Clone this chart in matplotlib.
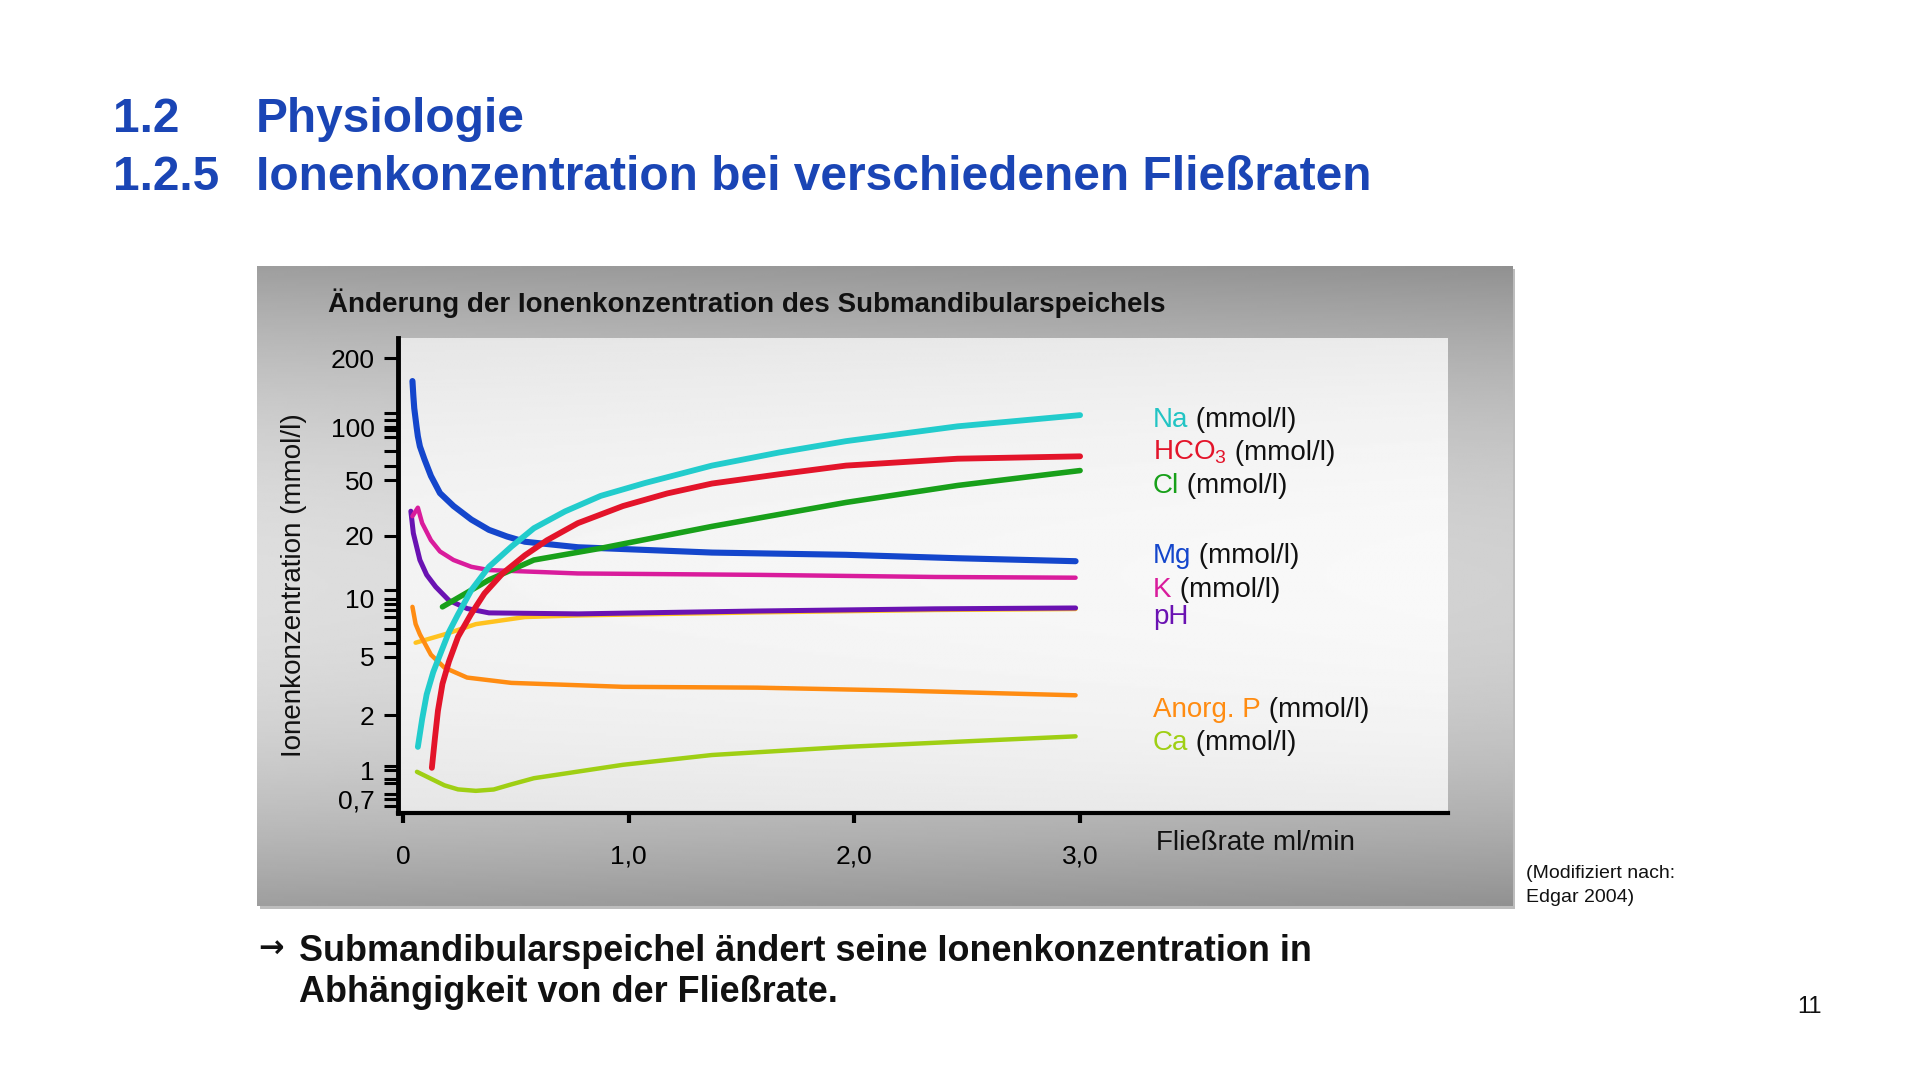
import numpy as np
import matplotlib
matplotlib.use("Agg")
import matplotlib.pyplot as plt

plt.rcParams['font.family'] = ['Liberation Sans', 'DejaVu Sans']
plt.rcParams['mathtext.fontset'] = 'custom'
plt.rcParams['mathtext.rm'] = 'Liberation Sans'
plt.rcParams['mathtext.it'] = 'Liberation Sans:italic'

# --- data (flow rate ml/min, concentration) ---
na_x = [0.066, 0.085, 0.105, 0.134, 0.164, 0.204, 0.244, 0.303, 0.381, 0.48, 0.58, 0.718, 0.876,
        1.072, 1.369, 1.666, 1.963, 2.457, 3.0]
na_y = [1.34, 1.90, 2.77, 3.93, 5.13, 6.74, 8.3, 11.0, 14.2, 17.7, 22.6, 29.9, 38.7,
        47.9, 60.7, 72.0, 83.5, 101, 113]

hco3_x = [0.128, 0.142, 0.155, 0.175, 0.204, 0.244, 0.301, 0.361, 0.441, 0.54, 0.638, 0.775, 0.975,
          1.171, 1.369, 1.666, 1.963, 2.457, 3.0]
hco3_y = [1.03, 1.51, 2.14, 3.27, 4.66, 6.35, 8.3, 10.6, 13.2, 16.1, 19.0, 24.6, 32.7,
          40.3, 47.5, 54.2, 60.7, 66.4, 68.5]

cl_x = [0.175, 0.381, 0.58, 0.876, 1.369, 1.963, 2.457, 3.0]
cl_y = [9.08, 12.3, 15.3, 17.4, 23.3, 34.7, 46.0, 56.9]

mg_x = [0.042, 0.046, 0.05, 0.06, 0.066, 0.075, 0.095, 0.124, 0.164, 0.224, 0.303, 0.381, 0.461,
        0.54, 0.775, 1.369, 1.963, 2.457, 2.98]
mg_y = [159, 137, 121, 101, 89, 78, 66, 53, 40.5, 32.7, 26.1, 22.0, 19.8,
        18.7, 17.6, 16.6, 16.2, 15.6, 15.1]

k_x = [0.042, 0.066, 0.085, 0.124, 0.164, 0.224, 0.303, 0.381, 0.775, 1.568, 2.357, 2.98]
k_y = [27.6, 31.8, 24.6, 19.0, 16.8, 15.3, 14.2, 13.7, 13.2, 13.0, 12.7, 12.6]

ph_x = [0.035, 0.046, 0.075, 0.105, 0.145, 0.204, 0.284, 0.381, 0.775, 1.568, 2.357, 2.98]
ph_y = [30.0, 20.8, 15.3, 13.0, 11.4, 9.8, 8.9, 8.45, 8.35, 8.64, 8.87, 8.96]

gold_x = [0.056, 0.184, 0.323, 0.54, 0.775, 1.568, 2.357, 2.98]
gold_y = [5.92, 6.54, 7.39, 8.04, 8.2, 8.5, 8.75, 8.85]

p_x = [0.042, 0.056, 0.075, 0.124, 0.184, 0.284, 0.48, 0.975, 1.568, 2.16, 2.98]
p_y = [9.08, 7.4, 6.54, 5.13, 4.22, 3.61, 3.32, 3.12, 3.08, 2.95, 2.73]

ca_x = [0.062, 0.184, 0.244, 0.323, 0.402, 0.48, 0.58, 0.975, 1.369, 1.963, 2.457, 2.98]
ca_y = [0.98, 0.83, 0.79, 0.776, 0.789, 0.84, 0.906, 1.07, 1.21, 1.34, 1.43, 1.53]

x_ticks = [0, 1, 2, 3]
x_ticklabels = ['0', '1,0', '2,0', '3,0']
y_ticks = [0.7, 1, 2, 5, 10, 20, 50, 100, 200]
y_ticklabels = ['0,7', '1', '2', '5', '10', '20', '50', '100', '200']
y_minor = [0.64, 0.75, 0.85, 0.9, 1.05, 5.9, 7.0, 8.0, 8.7, 9.4, 11, 60, 73, 88, 96, 108, 116]

# hand-drawn, irregular log axis: tick value -> vertical position
axis_vals = [0.5, 0.7, 1, 2, 5, 10, 20, 50, 100, 200, 300]
axis_pos = [826, 799, 770, 715, 657, 599, 536, 481, 428, 359, 318]
logs = np.log10(axis_vals)
pos = -np.array(axis_pos, dtype=float)


def fwd(v):
    v = np.clip(np.asarray(v, dtype=float), 1e-3, None)
    return np.interp(np.log10(v), logs, pos)


def inv(p):
    return 10 ** np.interp(np.asarray(p, dtype=float), pos, logs)


W, H = 1920, 1080


def fxp(px):
    return px / W


def fyp(py):
    return 1 - py / H


fig = plt.figure(figsize=(19.2, 10.8), dpi=100)
fig.patch.set_facecolor('white')

# soft shadow, then grey frame with gradient
shadow = fig.add_axes([fxp(260), fyp(909), (1512 - 257) / W, (906 - 266) / H])
shadow.set_facecolor('#bdbdbd')
shadow.set_xticks([])
shadow.set_yticks([])
for s in shadow.spines.values():
    s.set_visible(False)

box = fig.add_axes([fxp(257), fyp(906), (1512 - 257) / W, (906 - 266) / H])
v = np.linspace(0, 1, 300)[:, None]
u = np.linspace(0, 1, 400)[None, :]
shade = 0.87 - 1.0 * (v - 0.5) ** 2 - 0.05 * u
box.imshow(shade, cmap='gray', vmin=0, vmax=1, aspect='auto', interpolation='bilinear')
box.axis('off')

# light plot area
area_rect = [fxp(398), fyp(813), (1448 - 398) / W, (813 - 338) / H]
area = fig.add_axes(area_rect)
v2 = np.linspace(0, 1, 200)[:, None]
u2 = np.linspace(0, 1, 300)[None, :]
light = 0.975 - 0.22 * (v2 - 0.5) ** 2 - 0.02 * (1 - u2)
area.imshow(light, cmap='gray', vmin=0, vmax=1, aspect='auto', interpolation='bilinear')
area.axis('off')

ax = fig.add_axes(area_rect)
ax.patch.set_alpha(0)
ax.set_yscale('function', functions=(fwd, inv))
ax.set_xlim(-0.022, 4.63)
ax.set_ylim(0.59, 244)

series = [
    (gold_x, gold_y, '#ffc21f', 3.2),
    (ca_x, ca_y, '#9fcf14', 3.2),
    (p_x, p_y, '#ff8c12', 3.2),
    (ph_x, ph_y, '#6a12b2', 3.6),
    (k_x, k_y, '#d91c9c', 3.2),
    (mg_x, mg_y, '#1446cc', 4.4),
    (cl_x, cl_y, '#18a01a', 4.0),
    (hco3_x, hco3_y, '#e3142a', 4.2),
    (na_x, na_y, '#22cccc', 4.2),
]
for xs, ys, col, lw in series:
    ax.plot(xs, ys, color=col, lw=lw, solid_capstyle='round', solid_joinstyle='round')

for side in ['top', 'right']:
    ax.spines[side].set_visible(False)
ax.spines['left'].set_linewidth(3.5)
ax.spines['bottom'].set_linewidth(3.0)

ax.set_xticks(x_ticks)
ax.set_xticklabels(x_ticklabels, fontsize=19)
ax.set_yticks(y_ticks)
ax.set_yticklabels(y_ticklabels, fontsize=19)
ax.set_yticks(y_minor, minor=True)
ax.tick_params(axis='y', which='both', direction='out', length=10, width=2.2, pad=7)
ax.tick_params(axis='x', which='major', direction='out', length=7, width=3, pad=16)
ax.yaxis.set_minor_formatter(plt.NullFormatter())

# texts
blue = '#1a45b5'
fig.text(fxp(113), fyp(132), '1.2', fontsize=34.5, fontweight='bold', color=blue, va='baseline')
fig.text(fxp(256), fyp(132), 'Physiologie', fontsize=34.5, fontweight='bold', color=blue, va='baseline')
fig.text(fxp(113), fyp(190), '1.2.5', fontsize=34.5, fontweight='bold', color=blue, va='baseline')
fig.text(fxp(256), fyp(190), 'Ionenkonzentration bei verschiedenen Fließraten', fontsize=34.5,
         fontweight='bold', color=blue, va='baseline')

fig.text(fxp(328), fyp(312), 'Änderung der Ionenkonzentration des Submandibularspeichels',
         fontsize=20, fontweight='bold', color='#111111', va='baseline')
fig.text(fxp(294), fyp(585), 'Ionenkonzentration (mmol/l)', fontsize=20, rotation=90,
         ha='center', va='center', color='#111111')
fig.text(fxp(1156), fyp(850), 'Fließrate ml/min', fontsize=20, color='#111111', va='baseline')

legend = [
    ('Na', '#22c4c4', ' (mmol/l)', 427),
    ('HCO$_3$', '#e3142a', ' (mmol/l)', 460),
    ('Cl', '#18a01a', ' (mmol/l)', 493),
    ('Mg', '#1446cc', ' (mmol/l)', 563),
    ('K', '#d91c9c', ' (mmol/l)', 597),
    ('pH', '#6a12b2', '', 624),
    ('Anorg. P', '#ff8c12', ' (mmol/l)', 717),
    ('Ca', '#9fcf14', ' (mmol/l)', 750),
]
renderer = fig.canvas.get_renderer()
for name, col, rest, yb in legend:
    t = fig.text(fxp(1153), fyp(yb), name, fontsize=20, color=col, va='baseline')
    if rest:
        ext = t.get_window_extent(renderer)
        fig.text(ext.x1 / W, fyp(yb), rest, fontsize=20, color='#111111', va='baseline')

fig.text(fxp(1526), fyp(878), '(Modifiziert nach:', fontsize=14, color='#111111', va='baseline')
fig.text(fxp(1526), fyp(902), 'Edgar 2004)', fontsize=14, color='#111111', va='baseline')

fig.text(fxp(258), fyp(958), '→', fontsize=22, fontweight='bold', color='#111111', va='baseline',
         family=['DejaVu Sans'])
fig.text(fxp(299), fyp(961), 'Submandibularspeichel ändert seine Ionenkonzentration in',
         fontsize=25.9, fontweight='bold', color='#111111', va='baseline')
fig.text(fxp(299), fyp(1002), 'Abhängigkeit von der Fließrate.', fontsize=25.9, fontweight='bold',
         color='#111111', va='baseline')

fig.text(fxp(1797), fyp(1013), '11', fontsize=17, color='#111111', va='baseline')

fig.savefig('out.png', dpi=100)
